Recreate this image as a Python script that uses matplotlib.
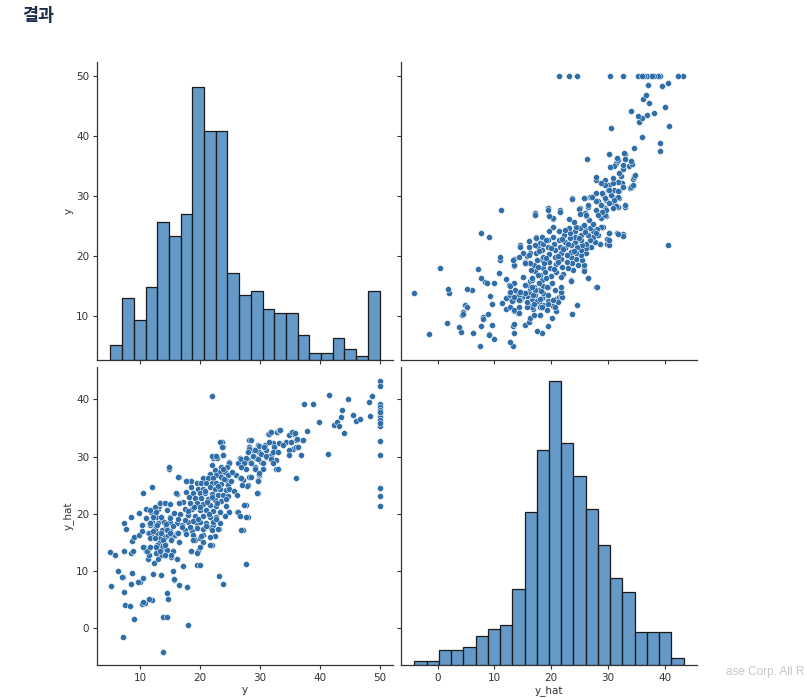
import numpy as np
import matplotlib.pyplot as plt

# (y, y_hat) pairs
points = [
    # sparse low / outliers
    (5.1, 7.4), (5.0, 13.3), (5.7, 12.7), (6.3, 10.0), (7.1, 9.0), (7.2, 13.5), (7.2, 18.3), (7.6, 17.4),
    (7.2, 6.3), (7.4, 4.1), (7.1, -1.6), (8.2, 3.8), (8.4, 13.2), (8.6, 15.3), (8.4, 19.5), (8.8, 13.4),
    (8.6, 9.6), (8.4, 7.7), (8.9, 1.6), (9.0, 16.0), (9.7, 16.2), (9.7, 20.1), (9.9, 8.0), (10.2, 16.9),
    (10.4, 23.7), (10.2, 18.1), (10.4, 8.8), (10.2, 4.2), (10.7, 4.4), (10.6, 14.2), (10.9, 13.5), (11.0, 19.2),
    (10.9, 20.9), (11.2, 16.7), (11.3, 12.1), (11.5, 12.8), (11.7, 20.3), (11.9, 24.6), (11.8, 16.4), (12.1, 9.5),
    (11.9, 4.9), (11.9, 18.6), (12.3, 11.3), (12.4, 17.8), (12.6, 19.5), (12.8, 13.4), (12.8, 16.6), (12.9, 20.9),
    (13.1, 12.8), (13.2, 21.3), (13.3, 21.8), (13.3, 14.8), (13.4, 9.3), (13.6, 18.9), (13.6, 17.2), (13.8, 2.0),
    (13.8, -4.1), (14.0, 14.0), (14.3, 17.8), (14.4, 6.1), (14.5, 1.9), (14.6, 5.1), (14.8, 27.9), (14.9, 19.5),
    (14.9, 16.9), (15.2, 12.5), (15.5, 10.0), (15.5, 13.4), (15.7, 8.4), (16.1, 23.4), (16.2, 12.0), (16.4, 26.5),
    (16.4, 7.6), (17.2, 10.8), (17.8, 25.8), (17.8, 7.1), (18.0, 0.5), (18.4, 13.4), (19.6, 13.4), (19.4, 11.0),
    (19.9, 11.0), (21.9, 40.5), (22.1, 29.8), (22.9, 29.8), (23.6, 32.6), (23.9, 31.6), (21.9, 14.5), (22.5, 16.1),
    (23.1, 9.1), (23.8, 7.7), (23.9, 30.2), (23.2, 17.3), (26.2, 20.3), (27.1, 17.2), (27.6, 11.2), (27.6, 21.5),
    (28.0, 19.5), (29.7, 23.6), (6.9, 9.0), (9.6, 8.0), (11.1, 13.4), (13.0, 12.0), (13.6, 12.8), (12.6, 13.1),
    (15.1, 12.7), (15.6, 8.6), (10.4, 4.5), (11.5, 5.1), (24.9, 29.1), (18.5, 25.7),
    # lower part of the cluster
    (11.5, 16.6), (11.6, 15.7), (13.6, 16.3), (13.3, 15.7), (14.1, 16.0), (14.7, 16.3), (15.25, 15.9), (15.8, 16.3),
    (16.1, 16.6), (14.4, 17.2), (12.5, 17.4), (11.6, 18.0), (13.0, 18.3), (13.9, 18.6), (15.0, 18.6), (16.1, 18.3),
    (16.9, 18.0), (17.5, 17.2), (18.6, 16.9), (18.9, 15.7), (19.1, 15.4), (20.0, 15.7), (20.5, 16.3), (21.6, 17.7),
    (22.2, 18.0), (19.4, 18.3), (18.0, 18.6), (13.2, 14.9), (13.6, 14.4), (14.1, 14.7), (12.75, 14.5), (14.4, 13.7),
    (11.6, 14.25), (10.5, 14.25),
    # dense core
    (23.4, 32.6), (23.7, 31.7), (21.9, 30.1), (22.7, 30.1), (23.8, 30.2), (14.8, 28.1), (16.3, 26.5), (17.6, 25.7),
    (22.0, 28.5), (24.9, 28.8), (24.5, 28.1), (23.5, 28.2), (22.4, 27.7), (23.25, 27.3), (24.1, 27.3), (21.6, 27.0),
    (22.7, 26.75), (23.5, 26.5), (24.6, 26.75), (20.5, 26.2), (21.3, 26.2), (22.1, 26.2), (24.35, 25.9), (19.4, 25.4),
    (20.2, 25.3), (21.0, 25.3), (21.9, 25.4), (22.7, 25.3), (23.5, 25.2), (24.6, 25.0), (18.5, 24.7), (19.6, 24.4),
    (20.5, 24.4), (21.6, 24.6), (22.4, 24.25), (23.25, 24.25), (24.25, 24.1), (17.7, 23.8), (18.8, 23.7), (19.9, 23.55),
    (20.75, 23.55), (21.9, 23.4), (23.0, 23.3), (23.8, 23.3), (24.6, 23.1), (15.9, 23.55), (18.1, 23.0), (19.1, 22.7),
    (20.2, 22.7), (21.3, 22.5), (22.4, 22.4), (23.5, 22.3), (17.1, 22.1), (18.25, 21.9), (19.5, 21.8), (20.5, 21.7),
    (21.6, 21.5), (22.7, 21.3), (24.25, 21.3), (16.5, 21.8), (13.25, 21.9), (14.1, 21.8), (14.9, 21.7), (12.4, 21.2),
    (17.4, 20.9), (18.7, 20.8), (19.9, 20.65), (21.0, 20.65), (22.1, 20.5), (23.25, 20.35), (24.9, 20.35), (26.3, 20.35),
    (11.6, 20.65), (12.7, 20.35), (14.4, 20.65), (15.6, 20.2), (16.7, 20.0), (18.0, 19.8), (19.1, 19.6), (20.4, 19.6),
    (21.6, 19.5), (22.7, 19.4), (24.1, 19.6), (12.1, 19.4), (13.5, 19.4), (14.9, 19.2), (16.3, 19.0), (17.4, 18.9),
    (18.8, 18.8), (19.9, 18.6), (21.0, 18.4), (22.1, 18.6), (23.25, 18.4), (11.6, 18.3), (12.8, 18.0), (14.25, 18.2),
    (15.5, 17.9), (16.9, 17.7), (18.25, 17.6), (19.4, 17.45), (20.5, 17.3), (21.9, 17.2), (23.0, 17.3), (26.9, 17.2),
    (12.1, 16.9), (13.5, 16.7), (14.9, 16.6), (16.3, 16.6), (17.7, 16.5), (18.8, 16.3), (20.2, 16.1), (21.6, 16.0),
    (12.4, 15.7), (13.8, 15.4), (15.2, 15.4), (16.5, 15.1), (18.8, 15.4), (20.5, 15.1), (12.7, 14.25), (14.1, 14.5),
    (19.9, 14.25), (18.5, 13.4), (19.4, 13.2), (21.6, 14.5), (13.25, 13.4), (14.1, 12.8),
    (20.0, 21.2), (21.2, 22.0), (22.0, 23.0), (23.0, 24.8), (24.0, 26.0), (20.8, 24.0), (19.0, 21.2), (22.9, 21.9),
    (24.4, 22.5), (21.4, 20.0), (17.9, 20.4), (23.9, 27.9), (22.6, 19.0), (20.9, 17.9), (19.7, 19.1), (24.8, 24.3),
    # middle band
    (31.3, 33.9), (31.6, 34.3), (28.2, 32.9), (29.6, 32.0), (30.8, 32.0), (32.4, 32.0), (28.2, 31.7), (28.8, 31.1),
    (29.9, 30.8), (31.0, 31.1), (31.9, 30.2), (26.6, 29.7), (27.1, 29.1), (28.0, 29.4), (28.5, 28.8), (29.4, 29.7),
    (30.2, 29.1), (31.0, 30.0), (26.3, 28.8), (27.7, 27.9), (29.1, 28.2), (30.5, 27.9), (32.7, 29.4), (26.0, 26.7),
    (26.6, 26.2), (27.1, 25.9), (28.2, 26.5), (29.9, 26.8), (28.0, 25.0), (29.6, 25.9),
    (33.25, 34.6), (32.8, 34.3), (31.6, 34.15), (28.5, 32.9), (34.9, 33.7), (35.75, 34.0), (36.1, 32.9), (37.0, 32.9),
    (34.4, 32.6), (35.2, 32.6), (33.25, 32.3), (32.1, 32.4), (31.5, 32.6), (29.9, 31.8), (30.75, 31.7), (32.4, 31.7),
    (33.8, 32.0), (35.5, 31.4), (36.0, 31.7), (28.25, 31.4), (29.25, 31.1), (34.9, 31.1), (32.1, 30.8), (33.0, 30.8),
    (28.0, 30.8), (30.2, 30.5), (31.0, 30.1), (34.8, 30.3), (28.8, 30.1), (26.9, 29.5), (27.7, 29.7), (29.6, 29.5),
    (31.9, 29.5), (27.4, 28.9), (28.5, 28.8), (30.5, 28.9), (32.1, 28.8), (26.9, 28.2), (29.1, 27.9), (32.7, 27.9),
    (29.9, 27.1), (28.5, 26.4), (26.9, 26.2), (27.9, 24.85), (27.0, 25.0), (29.6, 25.7), (29.5, 23.6), (27.4, 21.5),
    (26.6, 19.6), (27.7, 19.5), (25.3, 27.3), (25.6, 24.0), (25.1, 25.8), (26.1, 23.2), (33.1, 27.8),
    # high values
    (31.5, 34.0), (31.8, 34.3), (33.2, 34.6), (33.4, 34.7), (35.3, 34.2), (35.8, 34.1), (36.2, 33.0), (36.3, 31.6),
    (36.1, 26.3), (36.9, 30.2), (37.2, 32.8), (37.4, 39.2), (38.8, 39.1), (37.9, 34.5), (39.8, 36.0), (41.6, 40.8),
    (41.3, 30.5), (42.3, 35.5), (42.9, 36.0), (43.3, 35.3), (43.5, 36.9), (43.8, 38.1), (44.1, 34.1), (44.8, 40.0),
    (45.5, 37.2), (46.1, 36.2), (46.8, 36.6), (48.3, 39.5), (48.8, 40.6), (48.4, 37.0),
    # capped at 50
    (50.0, 43.2), (50.0, 42.3), (50.0, 39.1), (50.0, 38.7), (50.0, 38.1), (50.0, 37.5), (50.0, 36.9), (50.0, 36.3),
    (50.0, 35.3), (50.0, 32.7), (50.0, 30.3), (50.0, 24.5), (50.0, 23.1), (50.0, 21.3), (50.0, 37.8), (50.0, 35.9),
]
y, y_hat = np.array(points).T

# diagonal histograms (bin counts)
y_counts = [4, 17, 11, 20, 38, 34, 40, 75, 63, 63, 24, 18, 19, 14, 13, 13, 7, 2, 2, 6, 3, 1, 19]
y_range = (5.0, 50.0)
yhat_counts = [1, 1, 4, 4, 5, 8, 10, 11, 21, 42, 59, 78, 61, 52, 43, 33, 24, 20, 9, 9, 9, 2]
yhat_range = (-4.1, 43.3)

y_ticks = [10, 20, 30, 40, 50]
yhat_ticks = [0, 10, 20, 30, 40]
y_lim = (2.75, 52.25)
yhat_lim = (-6.45, 45.65)

dot_color = '#2f6ea9'
bar_face = (0.16, 0.45, 0.70, 0.72)

fig = plt.figure(figsize=(8.07, 6.98), dpi=100)
W, H = 807, 698
def place(x0, y0, x1, y1):
    return fig.add_axes([x0 / W, 1 - y1 / H, (x1 - x0) / W, (y1 - y0) / H])

ax00 = place(97, 62, 393, 360)
ax01 = place(401, 62, 697, 360)
ax10 = place(97, 367, 393, 665)
ax11 = place(401, 367, 697, 665)

for ax in [ax00, ax01, ax10, ax11]:
    ax.spines['top'].set_visible(False)
    ax.spines['right'].set_visible(False)
    for s in ['left', 'bottom']:
        ax.spines[s].set_color('#333333')
        ax.spines[s].set_linewidth(0.9)
    ax.tick_params(labelsize=7.5, colors='#333333', length=3, width=0.8, pad=2.5)

# limits / ticks
ax00.set_xlim(y_lim); ax00.set_ylim(y_lim)
ax01.set_xlim(yhat_lim); ax01.set_ylim(y_lim)
ax10.set_xlim(y_lim); ax10.set_ylim(yhat_lim)
ax11.set_xlim(yhat_lim); ax11.set_ylim(yhat_lim)
for ax in [ax00, ax10]:
    ax.set_xticks(y_ticks)
for ax in [ax01, ax11]:
    ax.set_xticks(yhat_ticks)
for ax in [ax00, ax01]:
    ax.set_yticks(y_ticks)
for ax in [ax10, ax11]:
    ax.set_yticks(yhat_ticks)
ax00.tick_params(labelbottom=False)
ax01.tick_params(labelbottom=False, labelleft=False)
ax11.tick_params(labelleft=False)

lab = dict(fontsize=7.5, color='#333333', labelpad=1.5)
ax00.set_ylabel('y', **lab)
ax10.set_ylabel('y_hat', **lab)
ax10.set_xlabel('y', **lab)
ax11.set_xlabel('y_hat', **lab)

# scatter panels
ax01.scatter(y_hat, y, s=19, color=dot_color, edgecolors='white', linewidths=0.35, zorder=3)
ax10.scatter(y, y_hat, s=19, color=dot_color, edgecolors='white', linewidths=0.35, zorder=3)

# diagonal histograms on hidden twin axes
top = max(max(y_counts), max(yhat_counts)) * 1.05
for ax, counts, rng in [(ax00, y_counts, y_range), (ax11, yhat_counts, yhat_range)]:
    tw = ax.twinx()
    edges = np.linspace(rng[0], rng[1], len(counts) + 1)
    tw.bar(edges[:-1], counts, width=np.diff(edges), align='edge',
           facecolor=bar_face, edgecolor='#1a1a1a', linewidth=0.9)
    tw.set_ylim(0, top)
    tw.axis('off')

fig.text(22 / W, 1 - 16 / H, '결과', fontsize=12.5, fontweight='bold', color='#1c2b4a',
         family=['Noto Sans CJK KR', 'DejaVu Sans'], va='center', ha='left')
fig.text(726 / W, 1 - 672 / H, 'ase Corp. All R', fontsize=8.5, color='#c8c8c8',
         family=['Liberation Sans', 'DejaVu Sans'], va='center', ha='left')

fig.savefig('out.png', dpi=100)
